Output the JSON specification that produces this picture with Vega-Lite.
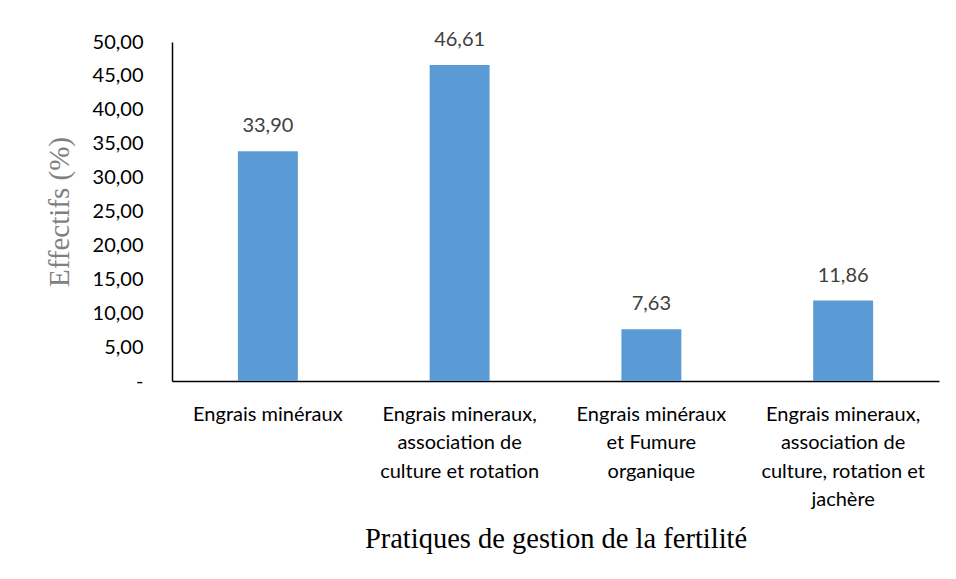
{
  "$schema": "https://vega.github.io/schema/vega-lite/v6.json",
  "autosize": {"type": "none"},
  "width": 767,
  "height": 339,
  "padding": {"left": 172, "top": 42, "right": 17, "bottom": 198},
  "background": "white",
  "config": {
    "view": {"stroke": null},
    "locale": {"number": {"decimal": ",", "thousands": " ", "grouping": [3], "currency": ["", " €"]}}
  },
  "data": {"values": [
    {"pratique": "Engrais minéraux", "effectif": 33.90},
    {"pratique": "Engrais mineraux,|association de|culture et rotation", "effectif": 46.61},
    {"pratique": "Engrais minéraux|et Fumure|organique", "effectif": 7.63},
    {"pratique": "Engrais mineraux,|association de|culture, rotation et|jachère", "effectif": 11.86}
  ]},
  "encoding": {
    "x": {
      "field": "pratique", "type": "nominal", "sort": null,
      "scale": {"paddingInner": 0.6875, "paddingOuter": 0.34375},
      "axis": {
        "title": "Pratiques de gestion de la fertilité",
        "titleFont": "Liberation Serif", "titleFontSize": 28.5, "titleFontWeight": "normal",
        "titleColor": "#000000", "titlePadding": 15,
        "labelAngle": 0, "labelFont": "Lato", "labelFontSize": 20, "labelColor": "#000000",
        "labelExpr": "split(datum.value, '|')", "labelLineHeight": 28.5, "labelPadding": 23,
        "labelBaseline": "top",
        "ticks": false, "domainColor": "#000000", "domainWidth": 1.5
      }
    },
    "y": {
      "field": "effectif", "type": "quantitative",
      "scale": {"domain": [0, 50]},
      "axis": {
        "title": "Effectifs (%)", "titleFont": "Liberation Serif", "titleFontSize": 29,
        "titleFontWeight": "normal", "titleColor": "#808080", "titlePadding": 18,
        "values": [0, 5, 10, 15, 20, 25, 30, 35, 40, 45, 50],
        "labelExpr": "datum.value == 0 ? '-' : format(datum.value, '.2f')",
        "labelFont": "Lato", "labelFontSize": 20, "labelColor": "#000000", "labelPadding": 29,
        "ticks": false, "grid": false, "domainColor": "#000000", "domainWidth": 1.5
      }
    }
  },
  "layer": [
    {"mark": {"type": "bar", "color": "#5B9BD5"}},
    {
      "mark": {"type": "text", "dy": -25, "font": "Lato", "fontSize": 20, "color": "#404040"},
      "encoding": {"text": {"field": "effectif", "type": "quantitative", "format": ".2f"}}
    }
  ]
}
